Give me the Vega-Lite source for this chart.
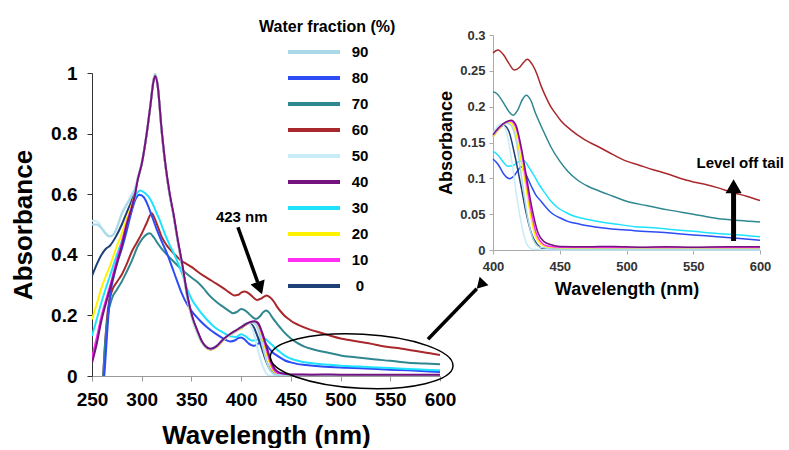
{
"$schema": "https://vega.github.io/schema/vega-lite/v6.json",
"padding": {"left": 10, "top": 19, "right": 0, "bottom": 0},
"spacing": -52,
"config": {"view": {"stroke": null}, "font": "Liberation Sans", "axis": {"grid": false, "labelOverlap": false}},
"resolve": {"scale": {"color": "independent"}, "legend": {"color": "independent"}},
"datasets": {
"spectra": [
{"s":"60","w":250,"a":-0.6},{"s":"60","w":256,"a":-0.3},{"s":"60","w":260,"a":-0.08},{"s":"60","w":263,"a":0.1},{"s":"60","w":266,"a":0.22},{"s":"60","w":270,"a":0.28},{"s":"60","w":275,"a":0.31},{"s":"60","w":280,"a":0.335},{"s":"60","w":285,"a":0.37},{"s":"60","w":290,"a":0.41},{"s":"60","w":295,"a":0.44},{"s":"60","w":300,"a":0.47},{"s":"60","w":305,"a":0.505},{"s":"60","w":310,"a":0.537},{"s":"60","w":313,"a":0.52},{"s":"60","w":316,"a":0.495},{"s":"60","w":320,"a":0.46},{"s":"60","w":325,"a":0.432},{"s":"60","w":330,"a":0.412},{"s":"60","w":335,"a":0.395},{"s":"60","w":340,"a":0.38},{"s":"60","w":345,"a":0.37},{"s":"60","w":350,"a":0.36},{"s":"60","w":356,"a":0.345},{"s":"60","w":362,"a":0.331},{"s":"60","w":368,"a":0.319},{"s":"60","w":375,"a":0.305},{"s":"60","w":382,"a":0.29},{"s":"60","w":388,"a":0.276},{"s":"60","w":393,"a":0.266},{"s":"60","w":397,"a":0.268},{"s":"60","w":400,"a":0.275},{"s":"60","w":403.7,"a":0.279},{"s":"60","w":408,"a":0.272},{"s":"60","w":412,"a":0.26},{"s":"60","w":416,"a":0.251},{"s":"60","w":420,"a":0.255},{"s":"60","w":423,"a":0.262},{"s":"60","w":425.7,"a":0.266},{"s":"60","w":429,"a":0.26},{"s":"60","w":433,"a":0.245},{"s":"60","w":436,"a":0.229},{"s":"60","w":440,"a":0.212},{"s":"60","w":443.6,"a":0.199},{"s":"60","w":447,"a":0.19},{"s":"60","w":451,"a":0.18},{"s":"60","w":458,"a":0.168},{"s":"60","w":468.6,"a":0.154},{"s":"60","w":480,"a":0.143},{"s":"60","w":490,"a":0.133},{"s":"60","w":500,"a":0.124},{"s":"60","w":510,"a":0.118},{"s":"60","w":520,"a":0.112},{"s":"60","w":531,"a":0.106},{"s":"60","w":540,"a":0.1},{"s":"60","w":550,"a":0.095},{"s":"60","w":560,"a":0.091},{"s":"60","w":568,"a":0.087},{"s":"60","w":580,"a":0.08},{"s":"60","w":590,"a":0.075},{"s":"60","w":600,"a":0.069},
{"s":"70","w":250,"a":-0.6},{"s":"70","w":256,"a":-0.3},{"s":"70","w":260,"a":-0.08},{"s":"70","w":263,"a":0.1},{"s":"70","w":266,"a":0.2},{"s":"70","w":270,"a":0.255},{"s":"70","w":275,"a":0.285},{"s":"70","w":280,"a":0.312},{"s":"70","w":285,"a":0.345},{"s":"70","w":290,"a":0.38},{"s":"70","w":296,"a":0.428},{"s":"70","w":300,"a":0.45},{"s":"70","w":304,"a":0.465},{"s":"70","w":308,"a":0.471},{"s":"70","w":312,"a":0.458},{"s":"70","w":316,"a":0.438},{"s":"70","w":320,"a":0.42},{"s":"70","w":326,"a":0.398},{"s":"70","w":332,"a":0.378},{"s":"70","w":340,"a":0.352},{"s":"70","w":350,"a":0.325},{"s":"70","w":356,"a":0.31},{"s":"70","w":362,"a":0.29},{"s":"70","w":368,"a":0.266},{"s":"70","w":375,"a":0.245},{"s":"70","w":382,"a":0.228},{"s":"70","w":388,"a":0.214},{"s":"70","w":392,"a":0.207},{"s":"70","w":396,"a":0.212},{"s":"70","w":400,"a":0.221},{"s":"70","w":403,"a":0.218},{"s":"70","w":408,"a":0.205},{"s":"70","w":412,"a":0.193},{"s":"70","w":415,"a":0.188},{"s":"70","w":419,"a":0.197},{"s":"70","w":422,"a":0.21},{"s":"70","w":425,"a":0.216},{"s":"70","w":428,"a":0.21},{"s":"70","w":432,"a":0.19},{"s":"70","w":436,"a":0.173},{"s":"70","w":440,"a":0.157},{"s":"70","w":443.6,"a":0.143},{"s":"70","w":450,"a":0.124},{"s":"70","w":456,"a":0.11},{"s":"70","w":463,"a":0.098},{"s":"70","w":471,"a":0.089},{"s":"70","w":480,"a":0.082},{"s":"70","w":490,"a":0.075},{"s":"70","w":500,"a":0.068},{"s":"70","w":515,"a":0.062},{"s":"70","w":531,"a":0.056},{"s":"70","w":550,"a":0.05},{"s":"70","w":568,"a":0.044},{"s":"70","w":585,"a":0.041},{"s":"70","w":600,"a":0.039},
{"s":"80","w":250,"a":-0.7},{"s":"80","w":256,"a":-0.3},{"s":"80","w":260,"a":-0.09},{"s":"80","w":263,"a":0.03},{"s":"80","w":265,"a":0.13},{"s":"80","w":268,"a":0.26},{"s":"80","w":272,"a":0.33},{"s":"80","w":276,"a":0.38},{"s":"80","w":280,"a":0.42},{"s":"80","w":285,"a":0.48},{"s":"80","w":290,"a":0.545},{"s":"80","w":294,"a":0.585},{"s":"80","w":298,"a":0.598},{"s":"80","w":302,"a":0.59},{"s":"80","w":306,"a":0.565},{"s":"80","w":310,"a":0.53},{"s":"80","w":315,"a":0.485},{"s":"80","w":320,"a":0.445},{"s":"80","w":326,"a":0.4},{"s":"80","w":331,"a":0.355},{"s":"80","w":336,"a":0.31},{"s":"80","w":340,"a":0.275},{"s":"80","w":343,"a":0.253},{"s":"80","w":350,"a":0.215},{"s":"80","w":358,"a":0.185},{"s":"80","w":366,"a":0.16},{"s":"80","w":375,"a":0.138},{"s":"80","w":383,"a":0.122},{"s":"80","w":389,"a":0.114},{"s":"80","w":394,"a":0.118},{"s":"80","w":397,"a":0.125},{"s":"80","w":400,"a":0.127},{"s":"80","w":404,"a":0.119},{"s":"80","w":408,"a":0.106},{"s":"80","w":412.5,"a":0.0995},{"s":"80","w":416,"a":0.104},{"s":"80","w":419,"a":0.112},{"s":"80","w":421,"a":0.116},{"s":"80","w":424,"a":0.108},{"s":"80","w":428.7,"a":0.089},{"s":"80","w":432,"a":0.077},{"s":"80","w":436,"a":0.068},{"s":"80","w":440,"a":0.059},{"s":"80","w":443.6,"a":0.052},{"s":"80","w":450,"a":0.045},{"s":"80","w":456,"a":0.04},{"s":"80","w":465,"a":0.036},{"s":"80","w":481,"a":0.031},{"s":"80","w":506,"a":0.027},{"s":"80","w":531,"a":0.024},{"s":"80","w":550,"a":0.021},{"s":"80","w":568,"a":0.0186},{"s":"80","w":585,"a":0.016},{"s":"80","w":600,"a":0.0135},
{"s":"30","w":250,"a":0.132},{"s":"30","w":255,"a":0.19},{"s":"30","w":259.4,"a":0.242},{"s":"30","w":264,"a":0.29},{"s":"30","w":268,"a":0.33},{"s":"30","w":274,"a":0.39},{"s":"30","w":279.5,"a":0.44},{"s":"30","w":285,"a":0.5},{"s":"30","w":290,"a":0.555},{"s":"30","w":294,"a":0.595},{"s":"30","w":298.5,"a":0.612},{"s":"30","w":302,"a":0.607},{"s":"30","w":306,"a":0.595},{"s":"30","w":310,"a":0.575},{"s":"30","w":314,"a":0.545},{"s":"30","w":318,"a":0.515},{"s":"30","w":322,"a":0.48},{"s":"30","w":327,"a":0.44},{"s":"30","w":333,"a":0.4},{"s":"30","w":338,"a":0.36},{"s":"30","w":342,"a":0.325},{"s":"30","w":346.5,"a":0.28},{"s":"30","w":350,"a":0.255},{"s":"30","w":357,"a":0.22},{"s":"30","w":365,"a":0.188},{"s":"30","w":373,"a":0.162},{"s":"30","w":382,"a":0.143},{"s":"30","w":390,"a":0.13},{"s":"30","w":395,"a":0.129},{"s":"30","w":400,"a":0.138},{"s":"30","w":404,"a":0.132},{"s":"30","w":408,"a":0.122},{"s":"30","w":411,"a":0.117},{"s":"30","w":415,"a":0.118},{"s":"30","w":419,"a":0.123},{"s":"30","w":423,"a":0.125},{"s":"30","w":427,"a":0.115},{"s":"30","w":431,"a":0.103},{"s":"30","w":435,"a":0.09},{"s":"30","w":438.7,"a":0.08},{"s":"30","w":443,"a":0.069},{"s":"30","w":448.6,"a":0.059},{"s":"30","w":455,"a":0.052},{"s":"30","w":461,"a":0.047},{"s":"30","w":470,"a":0.043},{"s":"30","w":481,"a":0.039},{"s":"30","w":493,"a":0.036},{"s":"30","w":506,"a":0.0326},{"s":"30","w":520,"a":0.031},{"s":"30","w":531,"a":0.029},{"s":"30","w":550,"a":0.026},{"s":"30","w":568,"a":0.023},{"s":"30","w":585,"a":0.021},{"s":"30","w":600,"a":0.0186},
{"s":"0","w":250,"a":0.33},{"s":"0","w":255,"a":0.37},{"s":"0","w":259,"a":0.397},{"s":"0","w":264,"a":0.42},{"s":"0","w":268,"a":0.43},{"s":"0","w":274,"a":0.46},{"s":"0","w":280,"a":0.5},{"s":"0","w":285,"a":0.54},{"s":"0","w":290,"a":0.58},{"s":"0","w":293,"a":0.61},{"s":"0","w":296,"a":0.65},{"s":"0","w":300,"a":0.7},{"s":"0","w":305,"a":0.8},{"s":"0","w":309,"a":0.9},{"s":"0","w":311.5,"a":0.97},{"s":"0","w":313.5,"a":0.995},{"s":"0","w":316,"a":0.96},{"s":"0","w":320,"a":0.81},{"s":"0","w":324,"a":0.69},{"s":"0","w":328,"a":0.6},{"s":"0","w":332,"a":0.53},{"s":"0","w":336,"a":0.45},{"s":"0","w":341,"a":0.36},{"s":"0","w":346,"a":0.26},{"s":"0","w":351,"a":0.19},{"s":"0","w":356,"a":0.145},{"s":"0","w":360,"a":0.115},{"s":"0","w":364,"a":0.097},{"s":"0","w":369,"a":0.088},{"s":"0","w":375,"a":0.097},{"s":"0","w":382,"a":0.12},{"s":"0","w":390,"a":0.14},{"s":"0","w":395,"a":0.15},{"s":"0","w":400,"a":0.158},{"s":"0","w":404,"a":0.168},{"s":"0","w":408,"a":0.174},{"s":"0","w":412,"a":0.165},{"s":"0","w":416,"a":0.135},{"s":"0","w":421,"a":0.089},{"s":"0","w":425,"a":0.05},{"s":"0","w":429,"a":0.022},{"s":"0","w":433,"a":0.008},{"s":"0","w":438,"a":0.002},{"s":"0","w":450,"a":0.001},{"s":"0","w":500,"a":0.001},{"s":"0","w":550,"a":0.001},{"s":"0","w":600,"a":0.001},
{"s":"20","w":250,"a":0.187},{"s":"20","w":255,"a":0.24},{"s":"20","w":259,"a":0.286},{"s":"20","w":264,"a":0.33},{"s":"20","w":268,"a":0.363},{"s":"20","w":274,"a":0.42},{"s":"20","w":280,"a":0.47},{"s":"20","w":285,"a":0.52},{"s":"20","w":290,"a":0.565},{"s":"20","w":293,"a":0.6},{"s":"20","w":296,"a":0.65},{"s":"20","w":300,"a":0.7},{"s":"20","w":305,"a":0.8},{"s":"20","w":309,"a":0.9},{"s":"20","w":311.5,"a":0.97},{"s":"20","w":313.5,"a":1.0},{"s":"20","w":316,"a":0.96},{"s":"20","w":320,"a":0.81},{"s":"20","w":324,"a":0.69},{"s":"20","w":328,"a":0.6},{"s":"20","w":332,"a":0.53},{"s":"20","w":336,"a":0.45},{"s":"20","w":341,"a":0.355},{"s":"20","w":346,"a":0.255},{"s":"20","w":351,"a":0.185},{"s":"20","w":356,"a":0.14},{"s":"20","w":360,"a":0.112},{"s":"20","w":364,"a":0.095},{"s":"20","w":369,"a":0.087},{"s":"20","w":375,"a":0.095},{"s":"20","w":382,"a":0.118},{"s":"20","w":390,"a":0.138},{"s":"20","w":395,"a":0.148},{"s":"20","w":400,"a":0.158},{"s":"20","w":405,"a":0.17},{"s":"20","w":410,"a":0.177},{"s":"20","w":412.5,"a":0.178},{"s":"20","w":416,"a":0.17},{"s":"20","w":420,"a":0.135},{"s":"20","w":423.7,"a":0.099},{"s":"20","w":427,"a":0.06},{"s":"20","w":431,"a":0.024},{"s":"20","w":436,"a":0.008},{"s":"20","w":442,"a":0.003},{"s":"20","w":460,"a":0.002},{"s":"20","w":500,"a":0.002},{"s":"20","w":550,"a":0.002},{"s":"20","w":600,"a":0.002},
{"s":"10","w":250,"a":0.06},{"s":"10","w":255,"a":0.13},{"s":"10","w":259,"a":0.19},{"s":"10","w":264,"a":0.25},{"s":"10","w":268,"a":0.295},{"s":"10","w":274,"a":0.37},{"s":"10","w":280,"a":0.44},{"s":"10","w":285,"a":0.505},{"s":"10","w":290,"a":0.558},{"s":"10","w":293,"a":0.597},{"s":"10","w":296,"a":0.65},{"s":"10","w":300,"a":0.7},{"s":"10","w":305,"a":0.8},{"s":"10","w":309,"a":0.9},{"s":"10","w":311.5,"a":0.97},{"s":"10","w":313.5,"a":0.995},{"s":"10","w":316,"a":0.96},{"s":"10","w":320,"a":0.81},{"s":"10","w":324,"a":0.69},{"s":"10","w":328,"a":0.6},{"s":"10","w":332,"a":0.53},{"s":"10","w":336,"a":0.45},{"s":"10","w":341,"a":0.36},{"s":"10","w":346,"a":0.26},{"s":"10","w":351,"a":0.19},{"s":"10","w":356,"a":0.145},{"s":"10","w":360,"a":0.115},{"s":"10","w":364,"a":0.097},{"s":"10","w":369,"a":0.088},{"s":"10","w":375,"a":0.097},{"s":"10","w":382,"a":0.12},{"s":"10","w":390,"a":0.14},{"s":"10","w":395,"a":0.15},{"s":"10","w":400,"a":0.16},{"s":"10","w":405,"a":0.171},{"s":"10","w":410,"a":0.178},{"s":"10","w":413,"a":0.18},{"s":"10","w":417,"a":0.172},{"s":"10","w":421,"a":0.14},{"s":"10","w":425,"a":0.095},{"s":"10","w":429,"a":0.05},{"s":"10","w":433,"a":0.02},{"s":"10","w":440,"a":0.006},{"s":"10","w":450,"a":0.004},{"s":"10","w":500,"a":0.0035},{"s":"10","w":550,"a":0.0035},{"s":"10","w":600,"a":0.0035},
{"s":"50","w":250,"a":0.512},{"s":"50","w":255,"a":0.51},{"s":"50","w":260,"a":0.49},{"s":"50","w":264,"a":0.472},{"s":"50","w":268,"a":0.462},{"s":"50","w":272,"a":0.47},{"s":"50","w":276,"a":0.5},{"s":"50","w":280,"a":0.54},{"s":"50","w":285,"a":0.57},{"s":"50","w":290,"a":0.6},{"s":"50","w":293,"a":0.62},{"s":"50","w":296,"a":0.655},{"s":"50","w":300,"a":0.705},{"s":"50","w":305,"a":0.805},{"s":"50","w":309,"a":0.905},{"s":"50","w":311.5,"a":0.97},{"s":"50","w":313.5,"a":1.0},{"s":"50","w":316,"a":0.96},{"s":"50","w":320,"a":0.81},{"s":"50","w":324,"a":0.69},{"s":"50","w":328,"a":0.6},{"s":"50","w":332,"a":0.53},{"s":"50","w":336,"a":0.45},{"s":"50","w":341,"a":0.355},{"s":"50","w":346,"a":0.255},{"s":"50","w":351,"a":0.185},{"s":"50","w":356,"a":0.14},{"s":"50","w":360,"a":0.112},{"s":"50","w":364,"a":0.096},{"s":"50","w":369,"a":0.09},{"s":"50","w":375,"a":0.1},{"s":"50","w":382,"a":0.12},{"s":"50","w":390,"a":0.14},{"s":"50","w":395,"a":0.152},{"s":"50","w":400,"a":0.163},{"s":"50","w":403,"a":0.172},{"s":"50","w":406,"a":0.176},{"s":"50","w":410,"a":0.165},{"s":"50","w":414,"a":0.125},{"s":"50","w":418,"a":0.072},{"s":"50","w":422,"a":0.03},{"s":"50","w":426,"a":0.006},{"s":"50","w":430,"a":0.001},{"s":"50","w":450,"a":0.0},{"s":"50","w":600,"a":0.0},
{"s":"90","w":250,"a":0.5},{"s":"90","w":255,"a":0.5},{"s":"90","w":260,"a":0.485},{"s":"90","w":264,"a":0.468},{"s":"90","w":268,"a":0.46},{"s":"90","w":272,"a":0.468},{"s":"90","w":276,"a":0.498},{"s":"90","w":280,"a":0.535},{"s":"90","w":285,"a":0.565},{"s":"90","w":290,"a":0.595},{"s":"90","w":293,"a":0.615},{"s":"90","w":296,"a":0.65},{"s":"90","w":300,"a":0.7},{"s":"90","w":305,"a":0.8},{"s":"90","w":309,"a":0.9},{"s":"90","w":311.5,"a":0.97},{"s":"90","w":313.5,"a":0.998},{"s":"90","w":316,"a":0.96},{"s":"90","w":320,"a":0.81},{"s":"90","w":324,"a":0.69},{"s":"90","w":328,"a":0.6},{"s":"90","w":332,"a":0.53},{"s":"90","w":336,"a":0.45},{"s":"90","w":341,"a":0.36},{"s":"90","w":346,"a":0.26},{"s":"90","w":351,"a":0.19},{"s":"90","w":356,"a":0.145},{"s":"90","w":360,"a":0.115},{"s":"90","w":364,"a":0.097},{"s":"90","w":369,"a":0.088},{"s":"90","w":375,"a":0.097},{"s":"90","w":382,"a":0.12},{"s":"90","w":390,"a":0.14},{"s":"90","w":395,"a":0.15},{"s":"90","w":400,"a":0.16},{"s":"90","w":405,"a":0.172},{"s":"90","w":410,"a":0.177},{"s":"90","w":413,"a":0.175},{"s":"90","w":417,"a":0.155},{"s":"90","w":420,"a":0.12},{"s":"90","w":423,"a":0.08},{"s":"90","w":426,"a":0.045},{"s":"90","w":430,"a":0.015},{"s":"90","w":435,"a":0.004},{"s":"90","w":450,"a":0.001},{"s":"90","w":600,"a":0.001},
{"s":"40","w":250,"a":0.044},{"s":"40","w":255,"a":0.11},{"s":"40","w":259,"a":0.176},{"s":"40","w":264,"a":0.24},{"s":"40","w":268,"a":0.286},{"s":"40","w":274,"a":0.36},{"s":"40","w":280,"a":0.43},{"s":"40","w":285,"a":0.5},{"s":"40","w":290,"a":0.555},{"s":"40","w":293,"a":0.595},{"s":"40","w":296,"a":0.648},{"s":"40","w":300,"a":0.7},{"s":"40","w":305,"a":0.8},{"s":"40","w":309,"a":0.9},{"s":"40","w":311.5,"a":0.965},{"s":"40","w":313.5,"a":0.99},{"s":"40","w":316,"a":0.96},{"s":"40","w":320,"a":0.815},{"s":"40","w":324,"a":0.695},{"s":"40","w":328,"a":0.605},{"s":"40","w":332,"a":0.535},{"s":"40","w":336,"a":0.455},{"s":"40","w":341,"a":0.365},{"s":"40","w":346,"a":0.265},{"s":"40","w":351,"a":0.195},{"s":"40","w":356,"a":0.15},{"s":"40","w":360,"a":0.118},{"s":"40","w":364,"a":0.099},{"s":"40","w":369,"a":0.09},{"s":"40","w":375,"a":0.098},{"s":"40","w":382,"a":0.121},{"s":"40","w":390,"a":0.141},{"s":"40","w":395,"a":0.151},{"s":"40","w":400,"a":0.161},{"s":"40","w":405,"a":0.172},{"s":"40","w":410,"a":0.179},{"s":"40","w":413.7,"a":0.181},{"s":"40","w":417,"a":0.175},{"s":"40","w":421,"a":0.145},{"s":"40","w":425,"a":0.103},{"s":"40","w":429,"a":0.06},{"s":"40","w":433.7,"a":0.024},{"s":"40","w":438,"a":0.012},{"s":"40","w":443.6,"a":0.0074},{"s":"40","w":450,"a":0.005},{"s":"40","w":470,"a":0.0045},{"s":"40","w":490,"a":0.005},{"s":"40","w":510,"a":0.004},{"s":"40","w":530,"a":0.0045},{"s":"40","w":550,"a":0.004},{"s":"40","w":575,"a":0.0045},{"s":"40","w":600,"a":0.0045}
]
},
"hconcat": [
{
"width": 348, "height": 303,
"layer": [
{
"data": {"name": "spectra"},
"mark": {"type": "line", "clip": true, "strokeWidth": 2, "interpolate": "monotone"},
"encoding": {
"x": {"field": "w", "type": "quantitative", "scale": {"domain": [250, 600], "nice": false},
"axis": {"title": "Wavelength (nm)", "values": [250,300,350,400,450,500,550,600], "tickCount": 10, "labelFlush": false, "labelFontSize": 19, "labelFontWeight": "bold", "labelColor": "#000", "titleFontSize": 26, "titleFontWeight": "bold", "titleColor": "#000", "domainColor": "#999", "tickColor": "#999", "tickSize": 5, "labelPadding": 9, "titlePadding": 13}},
"y": {"field": "a", "type": "quantitative", "scale": {"domain": [0, 1], "nice": false},
"axis": {"title": "Absorbance", "values": [0,0.2,0.4,0.6,0.8,1], "tickCount": 10, "format": "~g", "labelFontSize": 19, "labelFontWeight": "bold", "labelColor": "#000", "titleFontSize": 26, "titleFontWeight": "bold", "titleColor": "#000", "domainColor": "#333", "tickColor": "#333", "tickSize": 5, "labelPadding": 10, "titlePadding": 14}},
"color": {"field": "s", "type": "nominal",
"scale": {"domain": ["90","80","70","60","50","40","30","20","10","0"], "range": ["#a9d8e6","#2d4cf5","#2f8790","#a8282c","#c8ecfa","#74137e","#1ee3ff","#fff200","#ff2ef2","#1f3f78"]},
"legend": {"title": "Water fraction (%)", "orient": "none", "legendX": 167, "legendY": -54, "padding": 0, "titleFontSize": 16, "titleFontWeight": "bold", "titleColor": "#000", "titlePadding": 5, "labelFontSize": 15, "labelFontWeight": "bold", "labelColor": "#000", "labelAlign": "center", "symbolType": "M1.7,0H6.9", "symbolSize": 400, "symbolStrokeWidth": 4, "labelOffset": 77, "rowPadding": 6,
"encode": {"symbols": {"update": {"strokeWidth": {"value": 4}}}}}}
}
},
{
"data": {"values": [{"w": 400.6, "a": 0.525, "t": "423 nm"}]},
"mark": {"type": "text", "fontSize": 15, "fontWeight": "bold", "color": "#000", "baseline": "middle", "align": "center"},
"encoding": {"x": {"field": "w", "type": "quantitative"}, "y": {"field": "a", "type": "quantitative"}, "text": {"field": "t"}}
},
{
"data": {"values": [{"w": 396.8, "a": 0.491, "w2": 416.6, "a2": 0.31}, {"w": 587.9, "a": 0.1213, "w2": 637.0, "a2": 0.288}]},
"mark": {"type": "rule", "color": "#000", "strokeWidth": 3.5},
"encoding": {"x": {"field": "w", "type": "quantitative"}, "y": {"field": "a", "type": "quantitative"}, "x2": {"field": "w2"}, "y2": {"field": "a2"}}
},
{
"data": {"values": [{"w": 418.8, "a": 0.29, "ang": 340, "sz": 225}, {"w": 640.6, "a": 0.3006, "ang": 44, "sz": 150}]},
"mark": {"type": "point", "shape": "triangle-down", "filled": true, "color": "#000", "opacity": 1},
"encoding": {"x": {"field": "w", "type": "quantitative"}, "y": {"field": "a", "type": "quantitative"}, "angle": {"field": "ang", "type": "quantitative", "scale": null}, "size": {"field": "sz", "type": "quantitative", "scale": null}, "shape": {"value": "triangle-down"}}
},
{
"data": {"values": [{"w": 521.2, "a": 0.0486}]},
"mark": {"type": "point", "shape": "M-1,0A1,0.295,0,1,0,1,0A1,0.295,0,1,0,-1,0Z", "filled": false, "stroke": "#000", "strokeWidth": 1.5, "opacity": 1, "size": 33489, "angle": 3},
"encoding": {"x": {"field": "w", "type": "quantitative"}, "y": {"field": "a", "type": "quantitative"}}
}
]
},
{
"width": 267, "height": 177,
"layer": [
{
"data": {"name": "spectra"},
"transform": [{"filter": {"field": "w", "gte": 400}}],
"mark": {"type": "line", "clip": false, "strokeWidth": 1.5, "interpolate": "monotone"},
"encoding": {
"x": {"field": "w", "type": "quantitative", "scale": {"domain": [400, 600], "nice": false},
"axis": {"title": "Wavelength (nm)", "values": [400,450,500,550,600], "tickCount": 10, "labelFlush": false, "labelFontSize": 13, "labelFontWeight": "bold", "labelColor": "#333", "titleFontSize": 18, "titleFontWeight": "bold", "titleColor": "#000", "domainColor": "#aaa", "tickColor": "#aaa", "tickSize": 4, "labelPadding": 6, "titlePadding": 7}},
"y": {"field": "a", "type": "quantitative", "scale": {"domain": [0, 0.3], "nice": false, "range": [177, -38]},
"axis": {"title": "Absorbance", "values": [0,0.05,0.1,0.15,0.2,0.25,0.3], "tickCount": 10, "labelOverlap": false, "format": "~g", "labelFontSize": 13, "labelFontWeight": "bold", "labelColor": "#333", "titleFontSize": 18, "titleFontWeight": "bold", "titleColor": "#000", "domainColor": "#aaa", "tickColor": "#aaa", "tickSize": 4, "labelPadding": 4, "titlePadding": 4}},
"color": {"field": "s", "type": "nominal", "legend": null,
"scale": {"domain": ["90","80","70","60","50","40","30","20","10","0"], "range": ["#a9d8e6","#2d4cf5","#2f8790","#a8282c","#c8ecfa","#74137e","#1ee3ff","#fff200","#ff2ef2","#1f3f78"]}}
}
},
{
"data": {"values": [{"w": 585.2, "a": 0.122, "t": "Level off tail"}]},
"mark": {"type": "text", "fontSize": 15, "fontWeight": "bold", "color": "#000", "baseline": "middle", "align": "center"},
"encoding": {"x": {"field": "w", "type": "quantitative"}, "y": {"field": "a", "type": "quantitative"}, "text": {"field": "t"}}
},
{
"data": {"values": [{"w": 580.2, "a": 0.0126, "a2": 0.08}]},
"mark": {"type": "rule", "color": "#000", "strokeWidth": 5},
"encoding": {"x": {"field": "w", "type": "quantitative"}, "y": {"field": "a", "type": "quantitative"}, "y2": {"field": "a2"}}
},
{
"data": {"values": [{"w": 580.2, "a": 0.0889}]},
"mark": {"type": "point", "shape": "triangle-up", "filled": true, "color": "#000", "opacity": 1, "size": 260},
"encoding": {"x": {"field": "w", "type": "quantitative"}, "y": {"field": "a", "type": "quantitative"}}
}
]
}
]
}
